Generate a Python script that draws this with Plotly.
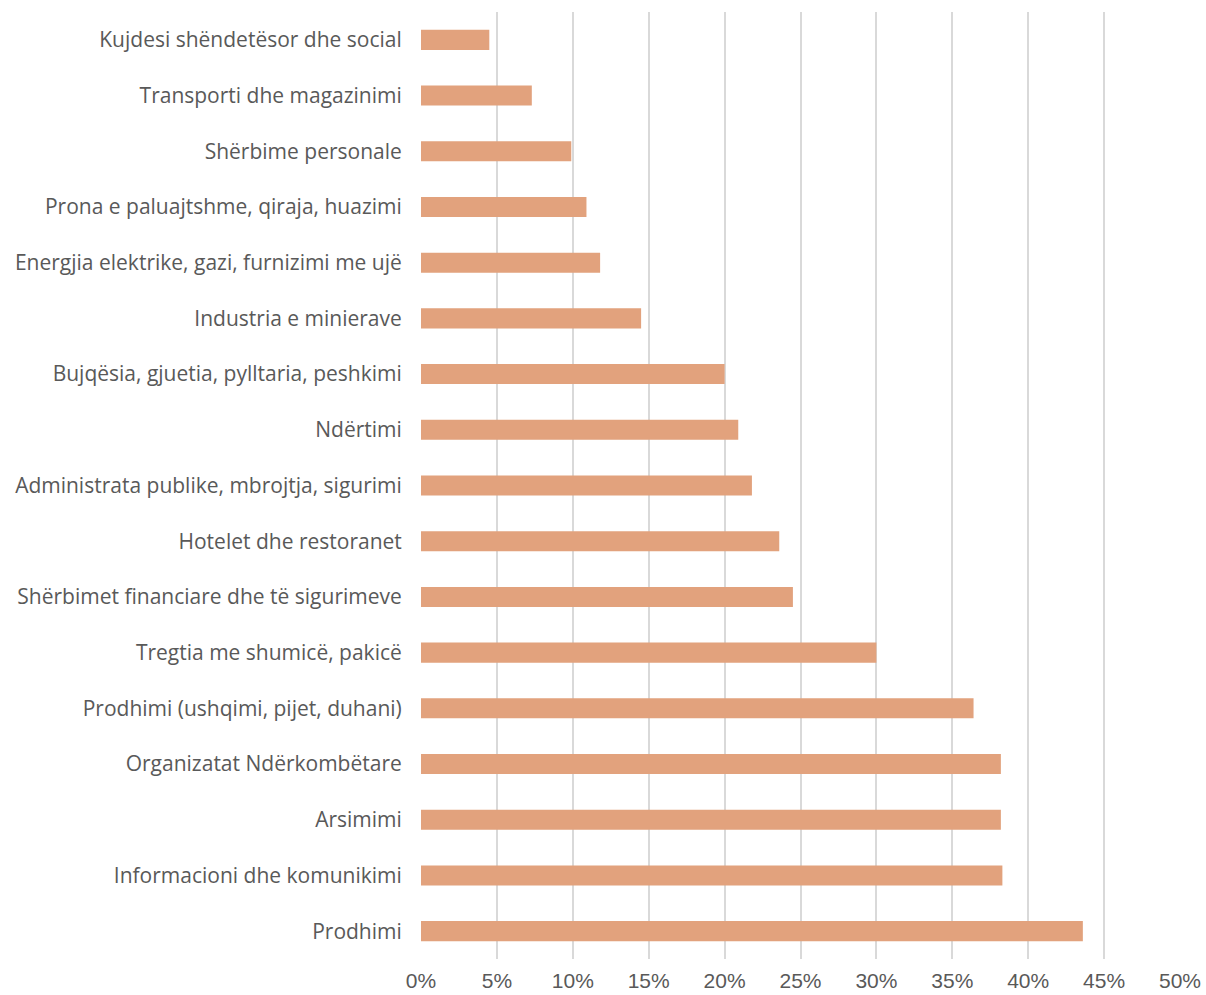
import plotly.graph_objects as go

# Sectors, listed top to bottom
sectors = [
    "Kujdesi shëndetësor dhe social",
    "Transporti dhe magazinimi",
    "Shërbime personale",
    "Prona e paluajtshme, qiraja, huazimi",
    "Energjia elektrike, gazi, furnizimi me ujë",
    "Industria e minierave",
    "Bujqësia, gjuetia, pylltaria, peshkimi",
    "Ndërtimi",
    "Administrata publike, mbrojtja, sigurimi",
    "Hotelet dhe restoranet",
    "Shërbimet financiare dhe të sigurimeve",
    "Tregtia me shumicë, pakicë",
    "Prodhimi (ushqimi, pijet, duhani)",
    "Organizatat Ndërkombëtare",
    "Arsimimi",
    "Informacioni dhe komunikimi",
    "Prodhimi",
]

# Share per sector, in percent
shares = [4.5, 7.3, 9.9, 10.9, 11.8, 14.5, 20.0, 20.9, 21.8, 23.6,
          24.5, 30.0, 36.4, 38.2, 38.2, 38.3, 43.6]

tick_values = [0, 5, 10, 15, 20, 25, 30, 35, 40, 45, 50]
tick_labels = ["0%", "5%", "10%", "15%", "20%", "25%", "30%", "35%",
               "40%", "45%", "50%"]

fig = go.Figure(
    go.Bar(
        x=shares,
        y=sectors,
        orientation="h",
        marker=dict(color="#E2A27D", line=dict(width=0)),
        hoverinfo="x+y",
    )
)

fig.update_layout(
    width=1206,
    height=995,
    margin=dict(l=421, r=26, t=12, b=36),
    paper_bgcolor="white",
    plot_bgcolor="white",
    bargap=0.64,
    showlegend=False,
    font=dict(family="Open Sans, sans-serif", color="#595959"),
)

fig.update_xaxes(
    range=[0, 50],
    tickmode="array",
    tickvals=tick_values,
    ticktext=tick_labels,
    showgrid=True,
    gridcolor="#D9D9D9",
    gridwidth=2,
    zeroline=False,
    showline=False,
    ticks="outside",
    ticklen=3,
    tickcolor="rgba(0,0,0,0)",
    tickfont=dict(family="Liberation Sans Narrow, Arial Narrow, Liberation Sans, sans-serif",
                  size=21, color="#595959"),
    automargin=False,
    fixedrange=True,
)

fig.update_yaxes(
    categoryorder="array",
    categoryarray=sectors,
    autorange="reversed",
    showgrid=False,
    zeroline=False,
    showline=False,
    ticks="outside",
    ticklen=14,
    tickcolor="rgba(0,0,0,0)",
    tickfont=dict(family="Open Sans, sans-serif", size=21, color="#595959"),
    automargin=False,
    fixedrange=True,
)

fig.write_html("out.html")
